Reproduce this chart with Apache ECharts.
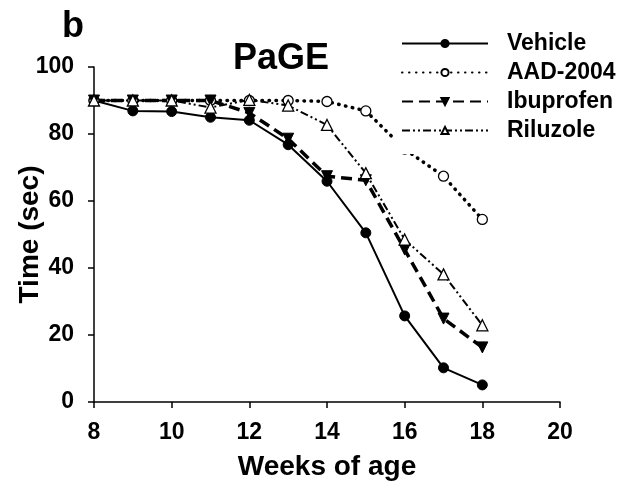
<!DOCTYPE html>
<html>
<head>
<meta charset="utf-8">
<script src="https://cdn.jsdelivr.net/npm/echarts@6/dist/echarts.min.js"></script>
<style>
  html, body { margin: 0; padding: 0; background: #fff; }
  #chart { width: 626px; height: 486px; }
</style>
</head>
<body>
<div id="chart"></div>
<script>
// Weeks of age at which the PaGE test was run
const weeks = [8, 9, 10, 11, 12, 13, 14, 15, 16, 17, 18];

// Mean time (sec) per treatment group
const vehicle   = [90, 86.9, 86.7, 85.0, 84.1, 76.8, 65.9, 50.5, 25.7, 10.2, 5.1];
const aad2004   = [90, 90, 90, 90, 90, 90, 89.7, 86.9, 75.5, 67.4, 54.5];
const ibuprofen = [90, 90, 90, 90, 86.3, 78.6, 67.4, 66.2, 45.5, 24.9, 16.3];
const riluzole  = [90, 90, 90, 87.9, 90.2, 88.5, 82.7, 68.3, 48.5, 38.1, 22.9];

const xTicks = [8, 10, 12, 14, 16, 18, 20];
const yTicks = [0, 20, 40, 60, 80, 100];

const FONT = '"Liberation Sans", Arial, sans-serif';
const pairs = vals => weeks.map((w, i) => [w, vals[i]]);

const chart = echarts.init(document.getElementById('chart'), null, { renderer: 'canvas' });

chart.setOption({
  animation: false,
  backgroundColor: '#fff',
  textStyle: { fontFamily: FONT },
  title: [
    { text: 'b', left: 57, top: 4,
      textStyle: { fontFamily: FONT, fontSize: 36, fontWeight: 'bold', color: '#000' } },
    { text: 'PaGE', left: 228, top: 36,
      textStyle: { fontFamily: FONT, fontSize: 36, fontWeight: 'bold', color: '#000' } }
  ],
  // white legend box sits on top of the plot and hides the lines beneath it
  legend: {
    orient: 'vertical',
    left: 393,
    top: 24,
    padding: [8, 10, 12, 8],
    backgroundColor: '#fff',
    itemWidth: 86,
    itemHeight: 9,
    itemGap: 6,
    z: 10,
    textStyle: {
      fontFamily: FONT, fontSize: 23, fontWeight: 'bold', color: '#000',
      lineHeight: 23, padding: [0, 0, 0, 14]
    },
    data: ['Vehicle', 'AAD-2004', 'Ibuprofen', 'Riluzole']
  },
  grid: { left: 94, right: 66, top: 67, bottom: 84, containLabel: false, outerBoundsMode: 'none' },
  xAxis: {
    type: 'value',
    min: xTicks[0],
    max: xTicks[xTicks.length - 1],
    interval: 2,
    name: 'Weeks of age',
    nameLocation: 'middle',
    nameGap: 51,
    nameMoveOverlap: false,
    nameTextStyle: { fontFamily: FONT, fontSize: 28, fontWeight: 'bold', color: '#000' },
    axisLine: { lineStyle: { color: '#000', width: 1.5 } },
    axisTick: { inside: false, length: 6, lineStyle: { color: '#000', width: 1.5 } },
    axisLabel: { margin: 19, fontFamily: FONT, fontSize: 23, fontWeight: 'bold', color: '#000' },
    splitLine: { show: false }
  },
  yAxis: {
    type: 'value',
    min: yTicks[0],
    max: yTicks[yTicks.length - 1],
    interval: 20,
    name: 'Time (sec)',
    nameLocation: 'middle',
    nameGap: 50,
    nameMoveOverlap: false,
    nameTextStyle: { fontFamily: FONT, fontSize: 28, fontWeight: 'bold', color: '#000' },
    axisLine: { show: true, lineStyle: { color: '#000', width: 1.5 } },
    axisTick: { show: true, inside: false, length: 6, lineStyle: { color: '#000', width: 1.5 } },
    axisLabel: { margin: 20, fontFamily: FONT, fontSize: 23, fontWeight: 'bold', color: '#000' },
    splitLine: { show: false }
  },
  series: [
    {
      name: 'Vehicle', type: 'line', data: pairs(vehicle),
      symbol: 'circle', symbolSize: 10,
      itemStyle: { color: '#000', borderColor: '#000', borderWidth: 1 },
      lineStyle: { color: '#000', width: 2, type: 'solid' }
    },
    {
      name: 'AAD-2004', type: 'line', data: pairs(aad2004),
      symbol: 'circle', symbolSize: 10,
      itemStyle: { color: '#fff', borderColor: '#000', borderWidth: 1.3 },
      lineStyle: { color: '#000', width: 3.5, type: [0.5, 6.5], cap: 'round' }
    },
    {
      name: 'Ibuprofen', type: 'line', data: pairs(ibuprofen),
      symbol: 'triangle', symbolRotate: 180, symbolSize: 11,
      itemStyle: { color: '#000', borderColor: '#000', borderWidth: 1 },
      lineStyle: { color: '#000', width: 3.5, type: [11, 6] }
    },
    {
      name: 'Riluzole', type: 'line', data: pairs(riluzole),
      symbol: 'triangle', symbolSize: 11,
      itemStyle: { color: '#fff', borderColor: '#000', borderWidth: 1.3 },
      lineStyle: { color: '#000', width: 2, type: [8, 3, 2, 3, 2, 3] }
    }
  ]
});
</script>
</body>
</html>
